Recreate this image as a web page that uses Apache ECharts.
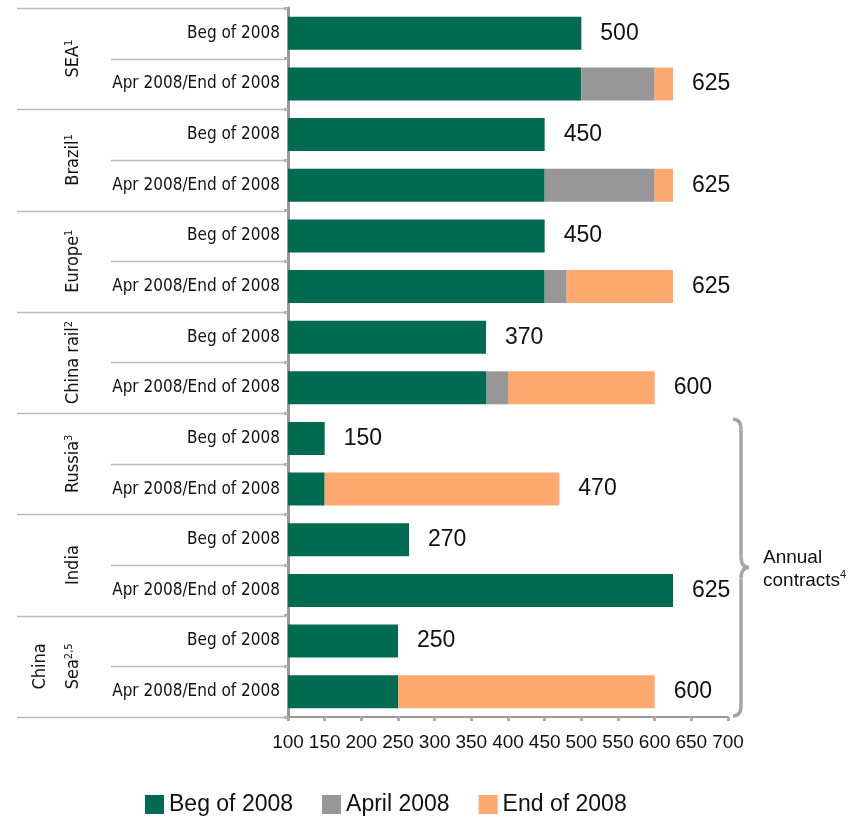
<!DOCTYPE html>
<html><head><meta charset="utf-8">
<script src="https://cdn.jsdelivr.net/npm/echarts@6/dist/echarts.min.js"></script>
<style>html,body{margin:0;padding:0;background:#fff}#c{width:859px;height:818px}</style>
</head><body><div id="c"></div>
<script>
// ---- data ----
const rowLabels = ['Beg of 2008','Apr 2008/End of 2008','Beg of 2008','Apr 2008/End of 2008',
  'Beg of 2008','Apr 2008/End of 2008','Beg of 2008','Apr 2008/End of 2008',
  'Beg of 2008','Apr 2008/End of 2008','Beg of 2008','Apr 2008/End of 2008',
  'Beg of 2008','Apr 2008/End of 2008'];
const groupNames = ['SEA','Brazil','Europe','China rail','Russia','India','China\nSea'];
const groupSups  = ['1','1','1','2','3','','2,5'];
const seriesNames = ['Beg of 2008','April 2008','End of 2008'];
const begValues   = [500,500,450,450,450,450,370,370,150,150,265,625,250,250];
const aprilValues = [0,100,0,150,0,30,0,30,0,0,0,0,0,0];
const endValues   = [0,25,0,25,0,145,0,200,0,320,0,0,0,350];
const totalLabels = [500,625,450,625,450,625,370,600,150,470,270,625,250,600];
const xMin = 100, xMax = 700, xStep = 50;
const annotation = 'Annual';
const annotation2 = 'contracts';
const annotationSup = '4';

const colors = ['#016B52','#979797','#FDA96F'];
const narrow = "'Liberation Sans Narrow','DejaVu Sans Condensed',sans-serif";
const sans = "'Liberation Sans',Arial,sans-serif";

const chart = echarts.init(document.getElementById('c'), null, {renderer:'canvas'});
const totalsForBar = begValues.map((v,i)=>v+aprilValues[i]+endValues[i]);

const option = {
  animation:false,
  textStyle:{fontFamily:sans},
  grid:{left:288, right:131, top:8, bottom:101, containLabel:false},
  legend:{
    data:seriesNames, left:140, top:788, itemWidth:19, itemHeight:19, itemGap:29,
    icon:'rect', textStyle:{fontSize:23, color:'#111', fontFamily:sans}
  },
  xAxis:{
    type:'value', min:xMin, max:xMax, interval:xStep,
    splitLine:{show:false},
    axisLine:{show:true, lineStyle:{color:'#999', width:2}},
    axisTick:{show:true, length:4, lineStyle:{color:'#aaa', width:3}},
    axisLabel:{fontSize:19, color:'#111', margin:16, fontFamily:sans}
  },
  yAxis:{
    type:'category', data:rowLabels, inverse:true,
    axisLine:{show:true, lineStyle:{color:'#999', width:3}},
    axisTick:{show:true, length:4, lineStyle:{color:'#aaa', width:3}},
    axisLabel:{fontSize:17, color:'#111', margin:8, fontFamily:narrow}
  },
  series:[
    {name:seriesNames[0], type:'bar', stack:'s', data:begValues, barWidth:33, itemStyle:{color:colors[0]}},
    {name:seriesNames[1], type:'bar', stack:'s', data:aprilValues, barWidth:33, itemStyle:{color:colors[1]}},
    {name:seriesNames[2], type:'bar', stack:'s', data:endValues, barWidth:33, itemStyle:{color:colors[2]}},
    {name:'total', type:'bar', data:totalsForBar, barWidth:33, barGap:'-100%', silent:true, z:1,
      itemStyle:{color:'rgba(0,0,0,0)'},
      label:{show:true, position:'right', distance:19, fontSize:23, color:'#111', fontFamily:sans,
        formatter:(p)=>String(totalLabels[p.dataIndex])}}
  ]
};
chart.setOption(option);

// decorations computed from axis scale
const p0 = chart.convertToPixel({gridIndex:0},[xMin,0]);
const p1 = chart.convertToPixel({gridIndex:0},[xMin,1]);
const rowH = p1[1]-p0[1];
const plotTop = p0[1]-rowH/2;
const axisX = p0[0];
const g = [];
for(let k=0;k<=rowLabels.length;k++){
  const y = Math.round(plotTop + k*rowH)+0.5;
  g.push({type:'line', shape:{x1:(k%2===0)?17:111, y1:y, x2:axisX-1, y2:y}, style:{stroke:'#bbb', lineWidth:1.5}, z:1});
}
groupNames.forEach((name,i)=>{
  const cy = plotTop + (2*i+1)*rowH;
  const lines = name.split('\n');
  const txt = lines.map((l,j)=> j===lines.length-1 && groupSups[i] ? '{n|'+l+'}{s|'+groupSups[i]+'}' : '{n|'+l+'}').join('\n');
  g.push({type:'text', x:90, y:cy, rotation:Math.PI/2, z:5,
    style:{text:txt, align:'center', verticalAlign:'bottom', fill:'#111',
      rich:{n:{fontSize:18, fontFamily:narrow, lineHeight:33, fill:'#111'},
            s:{fontSize:11, fontFamily:narrow, lineHeight:33, fill:'#111', verticalAlign:'top', padding:[7,0,0,0]}}}});
});
// brace around last three groups
const bTop = plotTop + 8*rowH + 6;
const bBot = plotTop + 14*rowH - 1;
const bMid = (bTop+bBot)/2;
const bx = 741;
const braceStyle = {stroke:'#a6a6a6', lineWidth:3.5, fill:null};
g.push({type:'bezierCurve', z:5, shape:{x1:bx-8, y1:bTop, cpx1:bx, cpy1:bTop, x2:bx, y2:bTop+10}, style:braceStyle});
g.push({type:'line', z:5, shape:{x1:bx, y1:bTop+10, x2:bx, y2:bMid-11}, style:braceStyle});
g.push({type:'bezierCurve', z:5, shape:{x1:bx, y1:bMid-11, cpx1:bx, cpy1:bMid, x2:bx+8, y2:bMid}, style:braceStyle});
g.push({type:'bezierCurve', z:5, shape:{x1:bx+8, y1:bMid, cpx1:bx, cpy1:bMid, x2:bx, y2:bMid+11}, style:braceStyle});
g.push({type:'line', z:5, shape:{x1:bx, y1:bMid+11, x2:bx, y2:bBot-10}, style:braceStyle});
g.push({type:'bezierCurve', z:5, shape:{x1:bx, y1:bBot-10, cpx1:bx, cpy1:bBot, x2:bx-8, y2:bBot}, style:braceStyle});
g.push({type:'text', x:763, y:bMid-10, z:5, style:{text:annotation, fontSize:19, fontFamily:sans, fill:'#111', verticalAlign:'middle'}});
g.push({type:'text', x:763, y:bMid+13, z:5, style:{text:'{n|'+annotation2+'}{s|'+annotationSup+'}', verticalAlign:'middle',
  rich:{n:{fontSize:19, fontFamily:sans, fill:'#111', lineHeight:22}, s:{fontSize:11, fontFamily:sans, fill:'#111', verticalAlign:'top', lineHeight:22}}}});
chart.setOption({graphic:g});
</script></body></html>
